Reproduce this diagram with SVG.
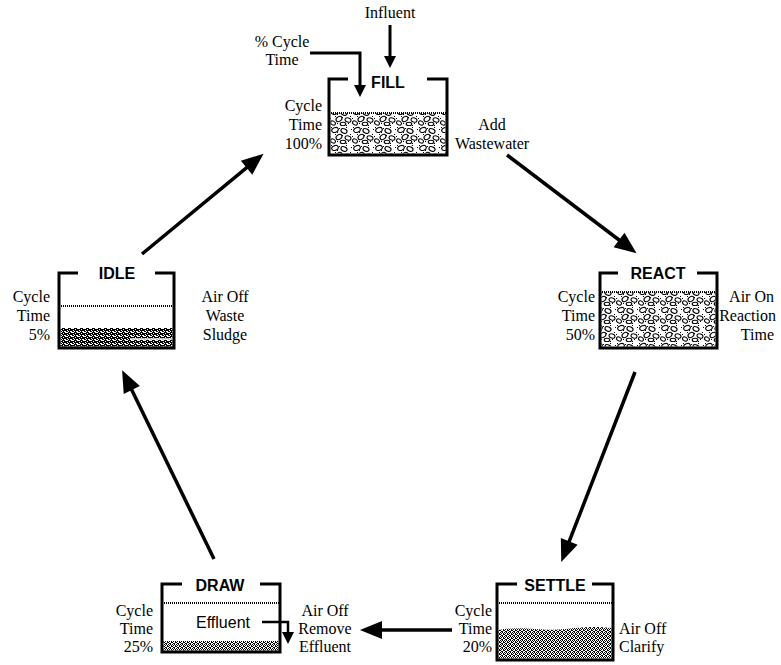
<svg xmlns="http://www.w3.org/2000/svg" width="781" height="665" viewBox="0 0 781 665">
<defs>
<style>
.lbl{font-family:"Liberation Serif","Times New Roman",serif;font-size:16px;fill:#000}
.ttl{font-family:"Liberation Sans",Arial,sans-serif;font-size:16px;font-weight:bold;fill:#000;text-anchor:middle}
.wall{fill:none;stroke:#000;stroke-width:3;stroke-linejoin:miter}
.wave{stroke:#000;stroke-width:2;stroke-dasharray:1 1;fill:none}
.conn{fill:none;stroke:#000;stroke-width:3.5}
.small{fill:none;stroke:#000;stroke-width:3}
.r{text-anchor:end}
.m{text-anchor:middle}
</style>
<marker id="big" markerUnits="userSpaceOnUse" markerWidth="22" markerHeight="18" refX="10" refY="9" orient="auto" overflow="visible">
<path d="M0,0 L22,9 L0,18 z" fill="#000"/>
</marker>
<marker id="sm" markerUnits="userSpaceOnUse" markerWidth="12" markerHeight="12" refX="6" refY="6" orient="auto" overflow="visible">
<path d="M0,0 L12,6 L0,12 z" fill="#000"/>
</marker>
<pattern id="pebble" width="22" height="18" patternUnits="userSpaceOnUse">
<rect width="22" height="18" fill="#fff"/>
<g fill="#000">
<rect x="1" y="1" width="1" height="1"/><rect x="9" y="2" width="1" height="1"/><rect x="16" y="1" width="1" height="1"/>
<rect x="5" y="8" width="1" height="1"/><rect x="12" y="9" width="1" height="1"/><rect x="20" y="8" width="1" height="1"/>
<rect x="2" y="14" width="1" height="1"/><rect x="10" y="16" width="1" height="1"/><rect x="18" y="15" width="1" height="1"/>
<rect x="7" y="6" width="1" height="1"/><rect x="15" y="10" width="1" height="1"/><rect x="21" y="3" width="1" height="1"/>
<rect x="0" y="10" width="1" height="1"/><rect x="7" y="15" width="1" height="1"/><rect x="16" y="17" width="1" height="1"/>
</g>
<g fill="#fff" stroke="#000" stroke-width="1.1">
<ellipse cx="5" cy="4" rx="3.4" ry="2.3" transform="rotate(-20 5 4)"/>
<ellipse cx="14" cy="5" rx="3.2" ry="2.1" transform="rotate(25 14 5)"/>
<ellipse cx="9" cy="11" rx="3.2" ry="2.3" transform="rotate(-35 9 11)"/>
<ellipse cx="18" cy="12" rx="3" ry="2.1" transform="rotate(15 18 12)"/>
<ellipse cx="3" cy="15" rx="2.6" ry="1.9" transform="rotate(30 3 15)"/>
<ellipse cx="13" cy="16" rx="2.8" ry="1.7"/>
</g>
</pattern>
<pattern id="stip" width="4" height="4" patternUnits="userSpaceOnUse">
<rect width="4" height="4" fill="#fff"/>
<g fill="#000">
<rect x="0" y="0" width="1" height="1"/><rect x="2" y="0" width="1" height="1"/><rect x="1" y="1" width="1" height="1"/>
<rect x="3" y="1" width="1" height="1"/><rect x="0" y="2" width="1" height="1"/><rect x="3" y="2" width="1" height="1"/>
<rect x="1" y="3" width="1" height="1"/><rect x="2" y="3" width="1" height="1"/>
</g>
</pattern>
<pattern id="dense" width="6" height="4" patternUnits="userSpaceOnUse">
<rect width="6" height="4" fill="#000"/>
<g fill="#fff">
<rect x="0" y="0" width="2" height="1"/><rect x="3" y="1" width="1" height="1"/><rect x="5" y="0" width="1" height="1"/>
<rect x="1" y="2" width="1" height="1"/><rect x="4" y="3" width="2" height="1"/><rect x="2" y="3" width="1" height="1"/>
</g>
</pattern>
</defs>
<rect width="781" height="665" fill="#fff"/>

<g id="connectors">
<line class="conn" x1="142" y1="254" x2="254.3" y2="161.4" marker-end="url(#big)"/>
<line class="conn" x1="507" y1="155" x2="627" y2="246" marker-end="url(#big)"/>
<line class="conn" x1="635" y1="372" x2="565.6" y2="550.7" marker-end="url(#big)"/>
<line class="conn" x1="452" y1="630" x2="372" y2="630" marker-end="url(#big)"/>
<line class="conn" x1="214" y1="559" x2="127.4" y2="381" marker-end="url(#big)"/>
<line class="small" x1="390" y1="25" x2="390" y2="62" marker-end="url(#sm)"/>
<path class="small" d="M310,53 H360 V91" marker-end="url(#sm)"/>
</g>

<g id="fill">
<rect x="330.5" y="113" width="115" height="40.5" fill="url(#pebble)"/>
<line class="wave" x1="331" y1="113" x2="446" y2="113"/>
<path class="wall" d="M348,79 H329 V155 H447 V79 H427"/>
<text class="ttl" x="388" y="88">FILL</text>
<text class="lbl m" x="390" y="18">Influent</text>
<text class="lbl m" x="282" y="47">% Cycle</text>
<text class="lbl m" x="282" y="65">Time</text>
<text class="lbl r" x="322" y="111">Cycle</text>
<text class="lbl r" x="322" y="130">Time</text>
<text class="lbl r" x="322" y="149">100%</text>
<text class="lbl m" x="492" y="130">Add</text>
<text class="lbl m" x="492" y="149">Wastewater</text>
</g>

<g id="react">
<rect x="601.5" y="292" width="114" height="54.5" fill="url(#pebble)"/>
<line class="wave" x1="602" y1="292" x2="716" y2="292"/>
<path class="wall" d="M618,273 H600 V348 H717 V273 H697"/>
<text class="ttl" x="658" y="279">REACT</text>
<text class="lbl r" x="595" y="302">Cycle</text>
<text class="lbl r" x="595" y="321">Time</text>
<text class="lbl r" x="595" y="340">50%</text>
<text class="lbl r" x="774" y="302">Air On</text>
<text class="lbl r" x="776" y="321">Reaction</text>
<text class="lbl r" x="774" y="340">Time</text>
</g>

<g id="settle">
<path d="M498.5,630 Q515,627 535,629 T575,628 Q595,626 611.5,628 V658.5 H498.5 Z" fill="url(#stip)"/>
<line class="wave" x1="499" y1="603" x2="612" y2="603"/>
<path class="wall" d="M517,584 H497 V660 H613 V584 H592"/>
<text class="ttl" x="555" y="591">SETTLE</text>
<text class="lbl r" x="492" y="616">Cycle</text>
<text class="lbl r" x="492" y="634">Time</text>
<text class="lbl r" x="492" y="652">20%</text>
<text class="lbl" x="619" y="634">Air Off</text>
<text class="lbl" x="619" y="652">Clarify</text>
</g>

<g id="draw">
<rect x="163.5" y="641" width="115" height="9.5" fill="url(#stip)"/>
<line class="wave" x1="164" y1="603" x2="279" y2="603"/>
<path class="wall" d="M182,584 H162 V652 H280 V584 H260"/>
<text class="ttl" x="220" y="591">DRAW</text>
<text x="223" y="628" style="font-family:'Liberation Sans',Arial,sans-serif;font-size:16px;text-anchor:middle">Effluent</text>
<path d="M262,622 H288 V638" fill="none" stroke="#000" stroke-width="2.5" marker-end="url(#sm)"/>
<text class="lbl r" x="153" y="616">Cycle</text>
<text class="lbl r" x="153" y="634">Time</text>
<text class="lbl r" x="153" y="652">25%</text>
<text class="lbl m" x="325" y="616">Air Off</text>
<text class="lbl m" x="325" y="634">Remove</text>
<text class="lbl m" x="325" y="652">Effluent</text>
</g>

<g id="idle">
<rect x="60.5" y="328" width="112" height="18.5" fill="url(#dense)"/>
<line x1="130" y1="339" x2="173" y2="339" stroke="#fff" stroke-width="1.5"/>
<line class="wave" x1="61" y1="306" x2="172" y2="306"/>
<path class="wall" d="M78,273 H59 V348 H174 V273 H155"/>
<text class="ttl" x="117" y="279">IDLE</text>
<text class="lbl r" x="50" y="302">Cycle</text>
<text class="lbl r" x="50" y="321">Time</text>
<text class="lbl r" x="50" y="340">5%</text>
<text class="lbl m" x="225" y="302">Air Off</text>
<text class="lbl m" x="225" y="321">Waste</text>
<text class="lbl m" x="225" y="340">Sludge</text>
</g>
</svg>
